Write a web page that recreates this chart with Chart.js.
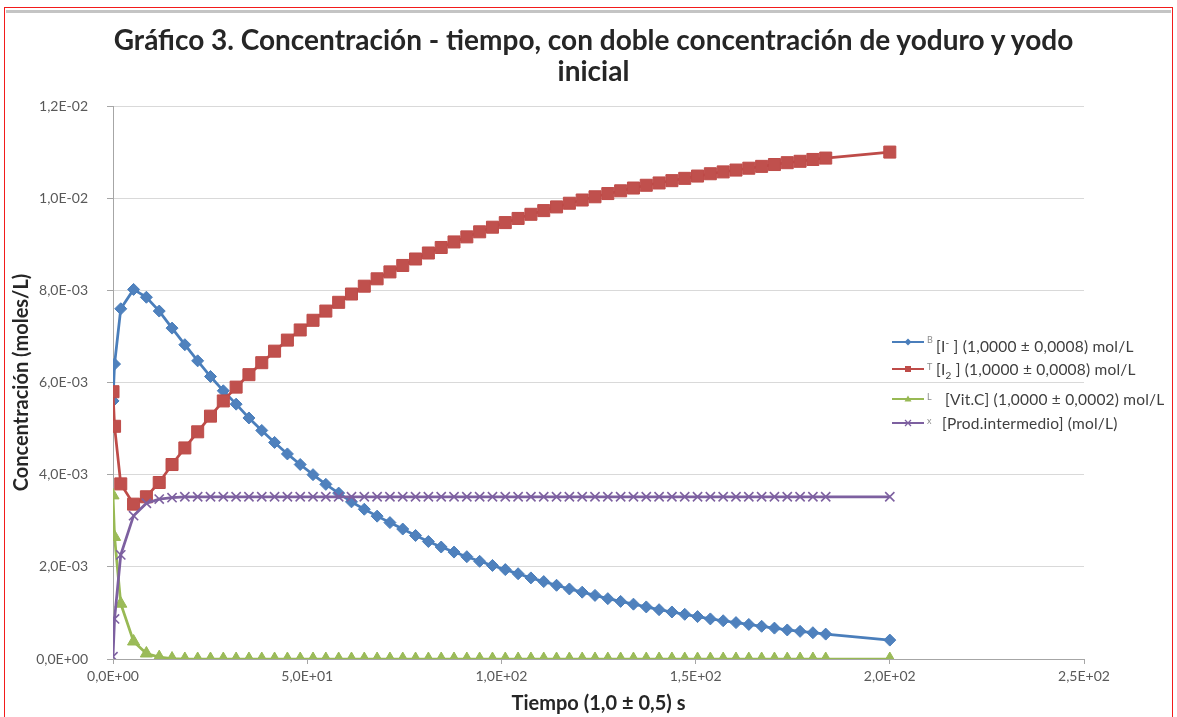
<!DOCTYPE html>
<html lang="es">
<head>
<meta charset="utf-8">
<title>Gráfico 3</title>
<script src="https://cdn.jsdelivr.net/npm/chart.js@4.4.1/dist/chart.umd.min.js"></script>
<style>
  body { margin: 0; background: #fff; font-family: Lato, "Noto Sans", sans-serif; }
  #lienzo { position: relative; width: 1177px; height: 717px; overflow: hidden; background: #fff; }
  #grafico { position: absolute; left: 0; top: 0; }
  .rojo { position: absolute; background: #f21b1b; }
  .gris { position: absolute; background: #c4c4c4; }
  #titulo { position: absolute; left: 5px; top: 24px; width: 1177px; text-align: center;
            font-weight: bold; font-size: 28px; line-height: 31px; color: #262626; }
  .fila { position: absolute; left: 892px; height: 18px; width: 285px; font-size: 15.5px; color: #404040; white-space: nowrap; letter-spacing: 0.2px; }
  .fila svg { position: absolute; left: 0; top: 0; }
  .fila .letra { position: absolute; left: 35px; top: 1px; font-size: 9px; color: #8c8c8c; letter-spacing: 0; }
  .fila .txt { position: absolute; top: 0; line-height: 18px; }
  sup, sub { font-size: 10px; }
</style>
</head>
<body>
<div id="lienzo">
  <canvas id="grafico" width="1177" height="717"></canvas>
  <div class="rojo" style="left:4px;top:7px;width:1169px;height:1px"></div>
  <div class="gris" style="left:6px;top:10px;width:1165px;height:3px"></div>
  <div class="rojo" style="left:4px;top:7px;width:1px;height:710px"></div>
  <div class="rojo" style="left:1172px;top:7px;width:1px;height:710px"></div>
  <div id="titulo">Gráfico 3. Concentración - tiempo, con doble concentración de yoduro y yodo<br>inicial</div>
  <div id="leyenda"></div>
</div>
<script>
// tiempo en s, concentraciones en mmol/L (el eje las muestra en mol/L)
const tiempo = [0, 0.4, 2, 5.3, 8.6, 11.9, 15.2, 18.5, 21.8, 25.1, 28.4, 31.7, 35, 38.3, 41.6, 44.9, 48.2, 51.5, 54.8, 58.1,
  61.4, 64.7, 68, 71.3, 74.6, 77.9, 81.2, 84.5, 87.8, 91.1, 94.4, 97.7, 101, 104.3, 107.6, 110.9, 114.2, 117.5, 120.8, 124.1,
  127.4, 130.7, 134, 137.3, 140.6, 143.9, 147.2, 150.5, 153.8, 157.1, 160.4, 163.7, 167, 170.3, 173.6, 176.9, 180.2, 183.5, 200];

const yoduro = [5.60, 6.40, 7.60, 8.02, 7.85, 7.55, 7.18, 6.82, 6.47, 6.13, 5.82, 5.53, 5.23, 4.96, 4.70, 4.45, 4.22, 4.00, 3.79, 3.60,
  3.41, 3.25, 3.10, 2.96, 2.82, 2.68, 2.55, 2.43, 2.32, 2.22, 2.12, 2.03, 1.94, 1.85, 1.76, 1.68, 1.60, 1.52, 1.45, 1.38,
  1.31, 1.25, 1.19, 1.13, 1.07, 1.02, 0.97, 0.92, 0.87, 0.83, 0.79, 0.75, 0.71, 0.67, 0.63, 0.60, 0.57, 0.54, 0.41];

const yodo = [5.80, 5.05, 3.80, 3.36, 3.52, 3.83, 4.22, 4.58, 4.93, 5.27, 5.60, 5.90, 6.17, 6.43, 6.68, 6.92, 7.14, 7.35, 7.55, 7.74,
  7.92, 8.09, 8.25, 8.40, 8.54, 8.68, 8.81, 8.93, 9.05, 9.16, 9.27, 9.37, 9.47, 9.56, 9.65, 9.73, 9.81, 9.89, 9.96, 10.03,
  10.10, 10.16, 10.22, 10.28, 10.33, 10.38, 10.43, 10.48, 10.53, 10.57, 10.61, 10.65, 10.69, 10.73, 10.77, 10.80, 10.84, 10.87, 11.00];

const vitC = [3.55, 2.65, 1.20, 0.38, 0.12, 0.04, 0.01, 0, 0, 0, 0, 0, 0, 0, 0, 0, 0, 0, 0, 0,
  0, 0, 0, 0, 0, 0, 0, 0, 0, 0, 0, 0, 0, 0, 0, 0, 0, 0, 0, 0,
  0, 0, 0, 0, 0, 0, 0, 0, 0, 0, 0, 0, 0, 0, 0, 0, 0, 0, 0];

const intermedio = [0.05, 0.87, 2.26, 3.11, 3.38, 3.47, 3.50, 3.52, 3.52, 3.52, 3.52, 3.52, 3.52, 3.52, 3.52, 3.52, 3.52, 3.52, 3.52, 3.52,
  3.52, 3.52, 3.52, 3.52, 3.52, 3.52, 3.52, 3.52, 3.52, 3.52, 3.52, 3.52, 3.52, 3.52, 3.52, 3.52, 3.52, 3.52, 3.52, 3.52,
  3.52, 3.52, 3.52, 3.52, 3.52, 3.52, 3.52, 3.52, 3.52, 3.52, 3.52, 3.52, 3.52, 3.52, 3.52, 3.52, 3.52, 3.52, 3.52];

const xTicks = [0, 50, 100, 150, 200, 250];
const yTicks = [0, 2, 4, 6, 8, 10, 12];

// 1.2e-2 -> "1,2E-02" como en Excel
function sci(v) {
  if (v === 0) return "0,0E+00";
  const [m, e] = v.toExponential(1).split("e");
  const n = parseInt(e);
  return m.replace(".", ",") + "E" + (n < 0 ? "-" : "+") + String(Math.abs(n)).padStart(2, "0");
}

function puntos(serie) {
  return tiempo.map((t, i) => ({ x: t, y: serie[i] }));
}

const series = [
  { label: "[I-] (1,0000 ± 0,0008) mol/L", data: yoduro, color: "#4A7EBB", fill: "#4F81BD", estilo: "rectRot", r: 6, order: 4 },
  { label: "[I2] (1,0000 ± 0,0008) mol/L", data: yodo, color: "#BE4B48", fill: "#C0504D", estilo: "rect", r: 8.5, order: 3 },
  { label: "[Vit.C] (1,0000 ± 0,0002) mol/L", data: vitC, color: "#98B954", fill: "#9BBB59", estilo: "triangle", r: 7, order: 2 },
  { label: "[Prod.intermedio] (mol/L)", data: intermedio, color: "#7D60A0", fill: "#8064A2", estilo: "crossRot", r: 6.5, order: 1 }
];

const fuente = "Lato, 'Noto Sans', sans-serif";

const ctx = document.getElementById("grafico").getContext("2d");
new Chart(ctx, {
  type: "scatter",
  data: {
    datasets: series.map(s => ({
      label: s.label,
      data: puntos(s.data),
      showLine: true,
      borderColor: s.color,
      borderWidth: 2.75,
      pointStyle: s.estilo,
      pointRadius: s.r,
      pointBackgroundColor: s.fill,
      pointBorderColor: s.color,
      pointBorderWidth: s.estilo === "crossRot" ? 1.6 : 1,
      order: s.order
    }))
  },
  options: {
    responsive: false,
    animation: false,
    layout: { padding: { top: 106, right: 93, left: 0, bottom: 0 } },
    plugins: { legend: { display: false }, tooltip: { enabled: false } },
    scales: {
      x: {
        type: "linear", min: 0, max: 250,
        afterBuildTicks: s => { s.ticks = xTicks.map(v => ({ value: v })); },
        afterFit: s => { s.height = 58; },
        ticks: { callback: v => sci(v), color: "#595959", font: { family: fuente, size: 14 }, padding: 4, maxRotation: 0 },
        grid: { drawOnChartArea: false, color: "#a6a6a6", tickLength: 5 },
        border: { color: "#a6a6a6" },
        title: { display: true, text: "Tiempo (1,0 ± 0,5) s", color: "#262626",
                 font: { family: fuente, size: 20, weight: "bold" }, padding: { top: 0, bottom: 1 } }
      },
      y: {
        min: 0, max: 12,
        afterBuildTicks: s => { s.ticks = yTicks.map(v => ({ value: v })); },
        afterFit: s => { s.width = 113; },
        ticks: { callback: v => sci(v / 1000), color: "#595959", font: { family: fuente, size: 14 }, padding: 19 },
        grid: { color: "#d9d9d9", tickColor: "#a6a6a6", tickLength: 6 },
        border: { color: "#a6a6a6" },
        title: { display: true, text: "Concentración (moles/L)", color: "#262626",
                 font: { family: fuente, size: 20, weight: "bold" }, padding: { top: 10, bottom: 0 } }
      }
    }
  }
});

// leyenda a la derecha, dentro del área de trazado
const filas = [
  { html: "[I<sup>-</sup> ] (1,0000 ± 0,0008) mol/L", letra: "B", forma: "rombo", top: 333, izq: 44 },
  { html: "[I<sub>2</sub> ] (1,0000 ± 0,0008) mol/L", letra: "T", forma: "cuadro", top: 360, izq: 44 },
  { html: "[Vit.C] (1,0000 ± 0,0002) mol/L", letra: "L", forma: "triangulo", top: 390, izq: 53 },
  { html: "[Prod.intermedio] (mol/L)", letra: "x", forma: "cruz", top: 414, izq: 50 }
];

function marca(forma, c) {
  if (forma === "rombo") return `<path d="M16 5.5 L19.5 9 L16 12.5 L12.5 9 Z" fill="${c}"/>`;
  if (forma === "cuadro") return `<rect x="13" y="6" width="6" height="6" fill="${c}"/>`;
  if (forma === "triangulo") return `<path d="M16 5.5 L19.5 11.5 L12.5 11.5 Z" fill="${c}"/>`;
  return `<path d="M13 6 L19 12 M19 6 L13 12" stroke="${c}" stroke-width="1.3"/>`;
}

const caja = document.getElementById("leyenda");
filas.forEach((f, i) => {
  const c = series[i].color;
  const div = document.createElement("div");
  div.className = "fila";
  div.style.top = f.top + "px";
  div.innerHTML = `<svg width="32" height="18"><line x1="0" y1="9" x2="32" y2="9" stroke="${c}" stroke-width="2"/>${marca(f.forma, c)}</svg>` +
    `<span class="letra">${f.letra}</span><span class="txt" style="left:${f.izq}px">${f.html}</span>`;
  caja.appendChild(div);
});
</script>
</body>
</html>
